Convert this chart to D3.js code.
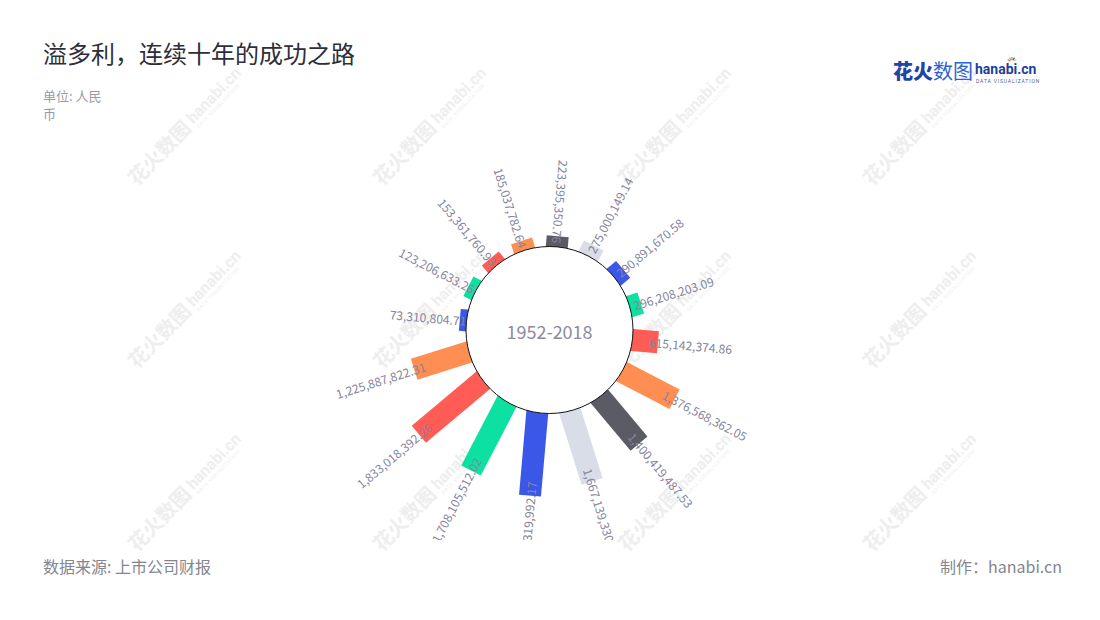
<!DOCTYPE html>
<html><head><meta charset="utf-8">
<script src="https://cdn.jsdelivr.net/npm/d3@7"></script>
<style>
html,body{margin:0;padding:0;background:#fff;}
svg{display:block;font-family:"Noto Sans CJK SC","Noto Sans",sans-serif;}
</style></head><body>
<svg id="chart" width="1100" height="620"></svg>
<script>
// ---- data ----
const categories = ["2003","2004","2005","2006","2007","2008","2009","2010","2011","2012","2013","2014","2015","2016","2017","2018"];
const values = [223395350.76, 275000149.14, 290891670.58, 296208203.09, 615142374.86, 1376568362.05,
                1400419487.53, 1667139330.36, 1862319992.17, 1708105512.02, 1833018392.26, 1225887822.31,
                73310804.71, 123206633.26, 153361760.93, 185037782.64];
const titleText = "溢多利，连续十年的成功之路";
const unitLines = ["单位: 人民", "币"];
const centerText = "1952-2018";
const sourceText = "数据来源: 上市公司财报";
const makerText = "制作：hanabi.cn";

// ---- styles ----
const barColors = ["#5b5b66","#d9dde8","#3a57e8","#0de1a1","#ff5c55","#ff8e52",
                   "#5b5b66","#d9dde8","#3a57e8","#0de1a1","#ff5c55","#ff8e52",
                   "#3a57e8","#0de1a1","#ff5c55","#ff8e52"];
const W = 1100, H = 620;
const cx = 549.5, cy = 330, innerR = 83.5;
const barCx = 547;
const barW = 22, lateral = 2.5, angleShift = 5 * Math.PI / 180;
const labelColor = "#85859b";

const svg = d3.select("#chart");

// watermarks
const wm = svg.append("g").attr("fill", "#eeeeee");
for (let col = 0; col < 4; col++) {
  for (let row = 0; row < 3; row++) {
    const g = wm.append("g").attr("transform", `translate(${184 + col*245},${128 + row*183}) rotate(-46)`);
    g.append("text").attr("x", 5).attr("y", 7).attr("text-anchor", "end")
      .attr("font-size", 20).attr("font-weight", 700).text("花火数图");
    g.append("text").attr("x", 9).attr("y", 4).attr("font-family", "Roboto, sans-serif")
      .attr("font-size", 16).attr("font-weight", 700).text("hanabi.cn");
    g.append("text").attr("x", 10).attr("y", 11).attr("font-family", "Roboto, sans-serif")
      .attr("font-size", 5).attr("letter-spacing", 0.6).text("DATA VISUALIZATION");
  }
}

// title & subtitle
svg.append("text").attr("x", 43).attr("y", 63).attr("font-size", 24).attr("fill", "#2e2e38").text(titleText);
const sub = svg.append("text").attr("x", 43).attr("y", 101).attr("font-size", 13).attr("fill", "#9a9aa4");
unitLines.forEach((t, i) => sub.append("tspan").attr("x", 43).attr("dy", i ? 18 : 0).text(t));

// logo
const logo = svg.append("g");
logo.append("text").attr("x", 893).attr("y", 79).attr("font-size", 20).attr("font-weight", 900).attr("fill", "#1d44a6").text("花火");
logo.append("text").attr("x", 933).attr("y", 79).attr("font-size", 20).attr("font-weight", 400).attr("fill", "#2d62d2").text("数图");
logo.append("text").attr("x", 975).attr("y", 74).attr("font-family", "Roboto, sans-serif").attr("font-size", 14).attr("font-weight", 700).attr("fill", "#1d3f9c").text("hanabi.cn");
logo.append("text").attr("x", 976).attr("y", 83).attr("font-family", "Roboto, sans-serif").attr("font-size", 5).attr("letter-spacing", 0.85).attr("fill", "#4a5f9a").text("DATA VISUALIZATION");
["#ff5c55","#ff8e52","#0de1a1","#3a57e8","#f7c744"].forEach((c, i) => {
  const a = (-150 + i * 30) * Math.PI / 180;
  logo.append("line").attr("x1", 1012 + Math.cos(a)*2).attr("y1", 62 + Math.sin(a)*2)
    .attr("x2", 1012 + Math.cos(a)*5).attr("y2", 62 + Math.sin(a)*5)
    .attr("stroke", c).attr("stroke-width", 1.3);
});

// footer
svg.append("text").attr("x", 43).attr("y", 573).attr("font-size", 16).attr("fill", "#858590").text(sourceText);
svg.append("text").attr("x", 1062).attr("y", 573).attr("text-anchor", "end").attr("font-size", 16).attr("fill", "#858590").text(makerText);

// scales
const x = d3.scaleBand().domain(categories).range([0, 2 * Math.PI]);
const r = d3.scaleLinear().domain([0, d3.max(values)]).range([innerR + 1, innerR + 83]);
const fmt = d3.format(",.2f");
const deg = a => a * 180 / Math.PI;
const isLeft = c => (deg(x(c)) + 180) % 360 <= 180;

const chart = svg.append("g").attr("transform", `translate(${barCx},${cy})`);
const data = categories.map((c, i) => ({c, v: values[i], color: barColors[i]}));

// bars
chart.selectAll("rect.bar").data(data).join("rect")
  .attr("class", "bar")
  .attr("transform", d => `rotate(${deg(x(d.c) + angleShift) - 90})`)
  .attr("x", innerR - 12)
  .attr("y", lateral - barW / 2)
  .attr("width", d => r(d.v) - (innerR - 12))
  .attr("height", barW)
  .attr("fill", d => d.color);

// labels (clipped at chart area bottom)
svg.append("clipPath").attr("id", "clipArea").append("rect").attr("x", 0).attr("y", 0).attr("width", W).attr("height", 540);
const labelLayer = svg.append("g").attr("clip-path", "url(#clipArea)")
  .append("g").attr("transform", `translate(${barCx},${cy})`);

labelLayer.selectAll("text").data(data).join("text")
  .attr("transform", d => {
    const len = r(d.v) - innerR;
    const rl = r(d.v) - 6 - 0.1 * len;
    return `rotate(${deg(x(d.c) + angleShift) - 90}) translate(${rl},${lateral})` + (isLeft(d.c) ? " rotate(180)" : "");
  })
  .attr("text-anchor", d => isLeft(d.c) ? "end" : "start")
  .attr("dominant-baseline", "central")
  .attr("font-size", 12)
  .attr("fill", labelColor)
  .text(d => fmt(d.v));

// inner circle on top
const hub = svg.append("g").attr("transform", `translate(${cx},${cy})`);
hub.append("circle").attr("r", innerR).attr("fill", "#fff").attr("stroke", "#111").attr("stroke-width", 1);
hub.append("text").attr("y", 9).attr("text-anchor", "middle").attr("font-size", 18).attr("fill", "#8b8ba0").text(centerText);
</script>
</body></html>
